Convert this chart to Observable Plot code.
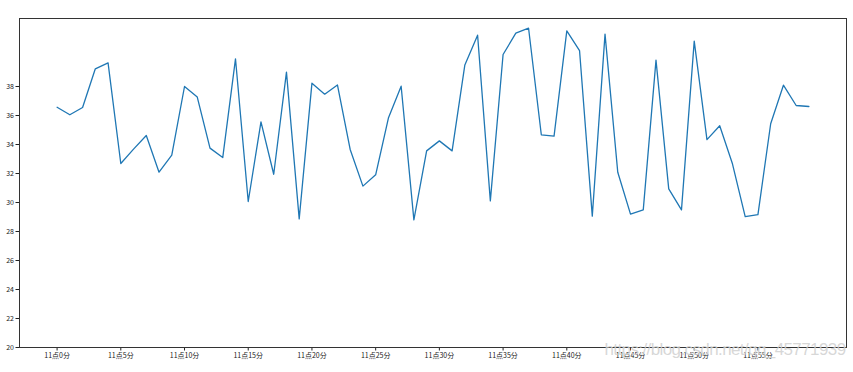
<!DOCTYPE html>
<html>
<head>
<meta charset="utf-8">
<script src="https://cdn.jsdelivr.net/npm/d3@7"></script>
<script src="https://cdn.jsdelivr.net/npm/@observablehq/plot@0.6"></script>
<style>
  html, body { margin: 0; padding: 0; background: #fff; }
  .wm text { letter-spacing: -0.6px; }
</style>
</head>
<body>
<div id="chart"></div>
<script>
const minutes = d3.range(0, 60);
const temperatures = [
  36.57, 36.05, 36.55, 39.22, 39.63, 32.69, 33.68, 34.62, 32.09, 33.26,
  38.00, 37.27, 33.75, 33.10, 39.91, 30.07, 35.56, 31.95, 38.99, 28.87,
  38.23, 37.47, 38.11, 33.66, 31.13, 31.91, 35.82, 38.02, 28.80, 33.56,
  34.25, 33.56, 39.49, 41.54, 30.11, 40.21, 41.68, 42.02, 34.67, 34.58,
  41.84, 40.48, 29.06, 41.61, 32.09, 29.20, 29.49, 39.82, 30.94, 29.49,
  41.13, 34.34, 35.29, 32.67, 29.03, 29.17, 35.43, 38.09, 36.69, 36.62
];
const xTicks = d3.range(0, 60, 5);
const xTickLabels = xTicks.map(m => `11点${m}分`);
const yTicks = d3.range(20, 40, 2);
const watermark = ["https://blog.csdn.net/qq_45771939"];

const data = minutes.map((m, i) => ({minute: m, temp: temperatures[i]}));

const chart = Plot.plot({
  width: 853,
  height: 372,
  marginLeft: 19,
  marginRight: 7,
  marginTop: 18,
  marginBottom: 25,
  style: {fontFamily: "'Noto Sans CJK SC', 'DejaVu Sans', sans-serif", fontSize: "7px", color: "#222", background: "#fff"},
  x: {domain: [-2.95, 61.95]},
  y: {domain: [20, 42.69]},
  marks: [
    Plot.axisX({ticks: xTicks, tickFormat: (d) => xTickLabels[xTicks.indexOf(d)], tickSize: 3.5, tickPadding: 2, label: null}),
    Plot.axisY({ticks: yTicks, tickSize: 3.5, tickPadding: 2, label: null}),
    Plot.line(data, {x: "minute", y: "temp", stroke: "#1f77b4", strokeWidth: 1.3}),
    Plot.frame({stroke: "#333", strokeWidth: 1}),
    Plot.text(watermark, {className: "wm", frameAnchor: "bottom-right", text: d => d, textAnchor: "end", dx: -1, dy: 7, fontSize: 17, fill: "#d0d0d0", fillOpacity: 0.85, fontFamily: "'Liberation Sans', sans-serif"})
  ]
});
document.getElementById("chart").appendChild(chart);
</script>
</body>
</html>
